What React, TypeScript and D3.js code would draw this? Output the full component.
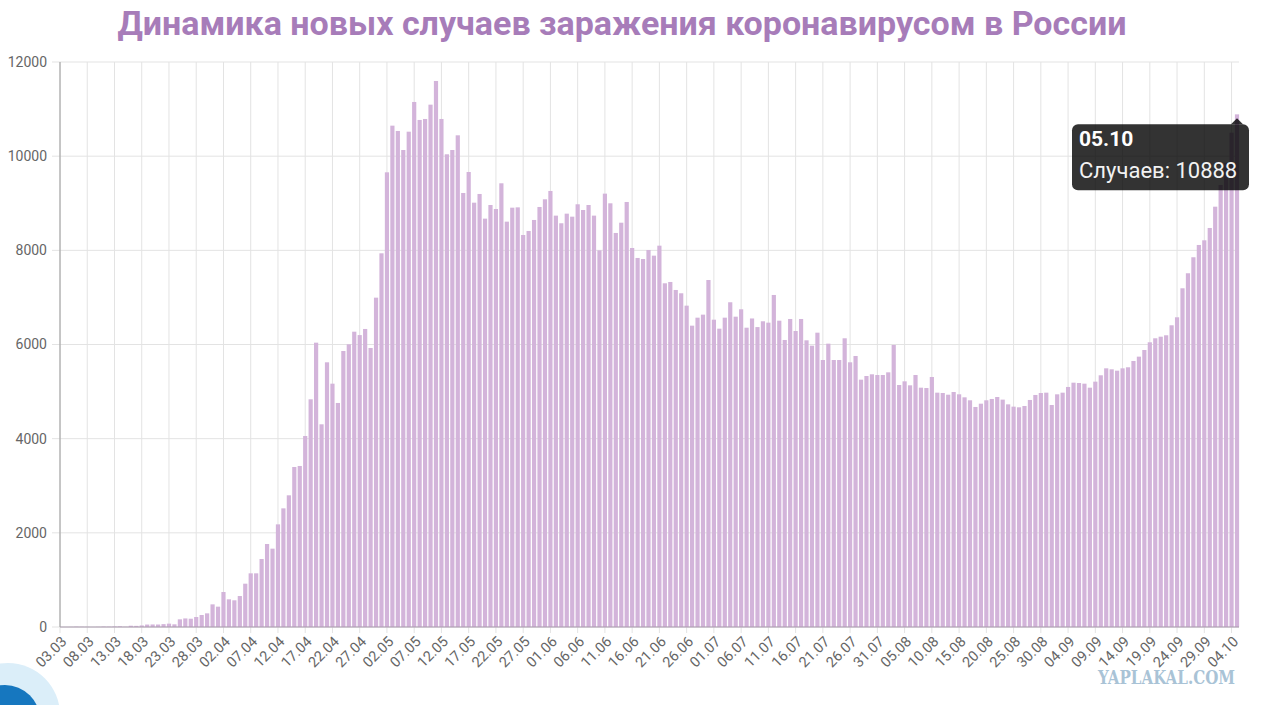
import React from "react";
import * as d3 from "d3";

// daily new cases (03.03 .. 05.10)
const march = [0, 0, 1, 6, 4, 3, 0, 3, 8, 6, 11, 14, 4, 27, 24, 33, 52, 54, 53, 61, 71, 57, 163, 182, 176, 212, 255, 290, 481];
const april = [432, 743, 588, 567, 658, 920, 1140, 1140, 1444, 1763, 1664, 2180, 2520, 2797, 3398, 3420, 4057, 4836, 6039, 4305, 5622, 5168, 4758, 5862, 6004, 6272, 6200, 6330, 5926, 6995];
const may = [7937, 9657, 10648, 10535, 10131, 10520, 11151, 10769, 10790, 11094, 11597, 10790, 10040, 10131, 10443, 9218, 9664, 9012, 9197, 8673, 8963, 8878, 9424, 8609, 8906, 8913, 8326, 8411, 8645, 8921, 9084];
const june = [9261, 8737, 8575, 8779, 8715, 8978, 8857, 8963, 8737, 8000, 9204, 8999, 8369, 8587, 9027, 8050, 7838, 7816, 8007, 7887, 8099, 7300, 7328, 7158, 7088, 6825, 6400, 6570, 6634, 7370];
const july = [6527, 6336, 6570, 6897, 6591, 6748, 6357, 6553, 6370, 6493, 6464, 7052, 6506, 6096, 6542, 6287, 6542, 6089, 5975, 6251, 5671, 6018, 5671, 5671, 6132, 5622, 5756, 5253, 5331, 5367, 5352];
const august = [5352, 5409, 5990, 5140, 5218, 5133, 5352, 5083, 5076, 5310, 4977, 4970, 4934, 4991, 4942, 4878, 4815, 4673, 4743, 4815, 4843, 4885, 4829, 4729, 4680, 4666, 4694, 4822, 4928, 4970, 4977];
const september = [4715, 4942, 4977, 5098, 5189, 5182, 5168, 5083, 5211, 5346, 5494, 5473, 5444, 5494, 5516, 5650, 5742, 5883, 6047, 6132, 6166, 6196, 6408, 6578, 7194, 7513, 7853, 8114, 8213, 8475];
const october = [8927, 9388, 9859, 10499, 10888];

const cases = [...march, ...april, ...may, ...june, ...july, ...august, ...september, ...october];

const firstDay = new Date(2020, 2, 3);
const days = d3.timeDay.range(firstDay, d3.timeDay.offset(firstDay, cases.length));
const dayLabels = days.map(d3.timeFormat("%d.%m"));
const yTicks = [0, 2000, 4000, 6000, 8000, 10000, 12000];

const title = "Динамика новых случаев заражения коронавирусом в России";
const tooltipName = "Случаев";
const watermark = "YAPLAKAL.COM";

const W = 1261;
const H = 705;
const margin = { top: 62, right: 24, bottom: 78, left: 60 };

const App: React.FC = () => {
  const x = d3
    .scalePoint<string>()
    .domain(dayLabels)
    .range([margin.left, 1237]);
  const y = d3
    .scaleLinear()
    .domain([0, 12000])
    .range([H - margin.bottom, margin.top]);

  const step = x.step();
  const barW = step * 0.77;
  const x0 = margin.left;
  const x1 = W - margin.right + 2;
  const tickDays = dayLabels.filter((_, i) => i % 5 === 0);

  // tooltip on the last bar
  const last = dayLabels.length - 1;
  const tipX = x(dayLabels[last]) as number;
  const tipY = y(cases[last]) + 4;
  const boxTop = tipY + 6;
  const boxRight = tipX + 12;
  const boxLeft = boxRight - 177;

  return (
    <svg
      width={W}
      height={H}
      style={{ position: "absolute", left: 0, top: 0, background: "#fff" }}
      fontFamily="Roboto, 'Noto Sans', sans-serif"
    >
      <rect width={W} height={H} fill="#fff" />

      <text x={622} y={35} textAnchor="middle" fontSize={34} fontWeight={700} fill="#a77cb9">
        {title}
      </text>

      {/* grid */}
      <g stroke="#e3e3e3" strokeWidth={1}>
        {yTicks.map((t) => (
          <line key={t} x1={x0 - 8} x2={x1} y1={y(t)} y2={y(t)} />
        ))}
        {tickDays.map((d) => (
          <line key={d} x1={x(d)} x2={x(d)} y1={margin.top} y2={y(0) + 6} />
        ))}
      </g>

      {/* bars */}
      <g fill="#d3b4da">
        {cases.map((v, i) => (
          <rect
            key={i}
            x={(x(dayLabels[i]) as number) - barW / 2}
            y={y(v)}
            width={barW}
            height={y(0) - y(v)}
          />
        ))}
      </g>

      {/* axes */}
      <line x1={x0} x2={x0} y1={margin.top} y2={y(0)} stroke="#9a9a9a" />
      <line x1={x0} x2={1239} y1={y(0)} y2={y(0)} stroke="#a89aac" />

      <g fontSize={14} fill="#666" textAnchor="end">
        {yTicks.map((t) => (
          <text key={t} x={47} y={y(t)} dy="0.35em">
            {t}
          </text>
        ))}
      </g>

      <g fontSize={14.5} fill="#666" textAnchor="end">
        {tickDays.map((d) => (
          <text key={d} transform={`translate(${(x(d) as number) + 4},${y(0) + 12}) rotate(-45)`} dy="0.35em">
            {d}
          </text>
        ))}
      </g>

      {/* tooltip */}
      <g>
        <path
          d={`M${tipX},${tipY} L${tipX + 6},${boxTop} L${tipX - 6},${boxTop} Z`}
          fill="rgba(0,0,0,0.8)"
        />
        <rect x={boxLeft} y={boxTop} width={boxRight - boxLeft} height={66} rx={6} fill="rgba(0,0,0,0.8)" />
        <text x={boxLeft + 7} y={boxTop + 22} fontSize={21} fontWeight={700} fill="#fff">
          {dayLabels[last]}
        </text>
        <text x={boxLeft + 7} y={boxTop + 54} fontSize={22} fill="#f2f2f2">
          {`${tooltipName}: ${cases[last]}`}
        </text>
      </g>

      {/* page decorations */}
      <circle cx={8} cy={715} r={52} fill="#dbeef9" />
      <circle cx={5} cy={720} r={35} fill="#1677bf" />
      <text
        x={1098}
        y={684}
        fontSize={18}
        fontWeight={700}
        fill="#a9c3d6"
        fontFamily="'DejaVu Serif', serif"
        textLength={137}
        lengthAdjust="spacingAndGlyphs"
      >
        {watermark}
      </text>
    </svg>
  );
};

export default App;
